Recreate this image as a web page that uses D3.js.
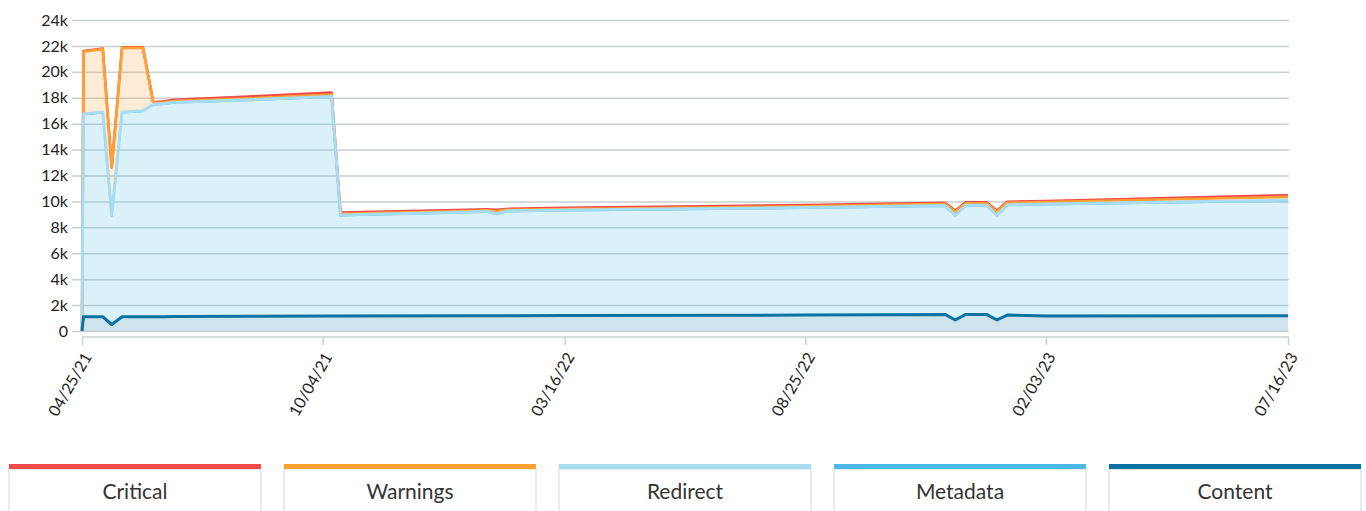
<html>
<head>
<meta charset="utf-8">
<title>issues</title>
<style>
  body { margin: 0; background: #fff; }
  text { font-family: Lato, "Open Sans", sans-serif; }
  .axis path, .axis line { fill: none; stroke: #c9d1d1; stroke-width: 1.5; }
  .axis text { font-size: 16px; fill: #222; }
</style>
</head>
<body>
<script src="https://cdn.jsdelivr.net/npm/d3@7"></script>
<script>
var width = 1366, height = 511;

// data
var dates = ["04/25/21","04/26/21","05/09/21","05/15/21","05/22/21","06/05/21","06/12/21","06/19/21","06/26/21","08/15/21",
  "10/10/21","10/16/21","01/09/22","01/22/22","01/29/22","02/05/22","03/16/22","08/25/22","11/27/22","12/04/22",
  "12/11/22","12/25/22","01/01/23","01/08/23","02/03/23","07/16/23"];
var content  = [0,1100,1100,500,1100,1100,1100,1100,1110,1130,1150,1150,1170,1175,1175,1180,1190,1230,1280,850,1280,1280,850,1230,1160,1180];
var metadata = [0,15610,15760,8410,15760,15860,16360,16410,16500,16680,16910,7760,7970,8035,7835,8050,8100,8260,8360,8060,8380,8390,8060,8470,8600,8880];
var redirect = [0,40,40,40,40,40,40,40,40,40,40,40,40,40,40,40,40,40,40,40,40,40,40,40,40,40];
var warnings = [0,4800,4850,3650,4950,4850,100,100,100,100,150,100,80,70,200,80,90,90,140,250,150,150,250,160,150,250];
var critical = [0,50,50,50,50,50,50,70,100,150,150,100,90,80,100,70,80,100,80,70,80,80,80,80,80,130];

var xTicks = ["04/25/21","10/04/21","03/16/22","08/25/22","02/03/23","07/16/23"];
var yTicks = [0,2000,4000,6000,8000,10000,12000,14000,16000,18000,20000,22000,24000];
var legendNames = ["Critical","Warnings","Redirect","Metadata","Content"];

var keys = ["content","metadata","redirect","warnings","critical"];
var colors = {critical:"#f24a48", warnings:"#ffa030", redirect:"#a8dcf2", metadata:"#4cb8e8", content:"#0a72a2"};
var fillOpacity = {critical:0.2, warnings:0.2, redirect:0.3, metadata:0.2, content:0.2};

var parse = d3.timeParse("%m/%d/%y");
var fmt = d3.timeFormat("%m/%d/%y");
var rows = dates.map(function(d, i){
  return {date: parse(d), content: content[i], metadata: metadata[i], redirect: redirect[i], warnings: warnings[i], critical: critical[i]};
});

var series = d3.stack().keys(keys)(rows);

var svg = d3.select("body").append("svg").attr("width", width).attr("height", height);

var x = d3.scaleTime().domain([parse(xTicks[0]), parse(xTicks[xTicks.length-1])]).range([82, 1288]);
var y = d3.scaleLinear().domain([0, 24000]).range([331, 20]);

// grid + y labels
var yAxis = d3.axisLeft(y).tickValues(yTicks).tickSize(-(1289 - 72))
  .tickFormat(function(d){ return d === 0 ? "0" : (d/1000) + "k"; });
var gy = svg.append("g").attr("class","axis").attr("transform","translate(72,0)").call(yAxis);
gy.select(".domain").remove();
gy.selectAll("line").attr("stroke","#c9d0d0").attr("stroke-width",1.5);
gy.selectAll("text").attr("x",-4).attr("font-size","16px");

// areas
var area = d3.area().x(function(d){ return x(d.data.date); }).y0(function(d){ return y(d[0]); }).y1(function(d){ return y(d[1]); });
var line = d3.line().x(function(d){ return x(d.data.date); }).y(function(d){ return y(d[1]); });

svg.append("g").selectAll("path").data(series).enter().append("path")
  .attr("d", area)
  .attr("fill", function(s){ return colors[s.key]; })
  .attr("fill-opacity", function(s){ return fillOpacity[s.key]; });

// metadata line sits just under the redirect line, drawn first so it mostly hides
var lineOrder = ["metadata","critical","warnings","redirect","content"];
var widths = {metadata:2, critical:2.6, warnings:2.6, redirect:3, content:3};
svg.append("g").selectAll("path")
  .data(lineOrder.map(function(k){ return series.find(function(s){ return s.key === k; }); }))
  .enter().append("path")
  .attr("d", line)
  .attr("fill","none")
  .attr("stroke", function(s){ return colors[s.key]; })
  .attr("stroke-width", function(s){ return widths[s.key]; })
  .attr("stroke-linejoin","round");

// x axis
var xAxis = d3.axisBottom(x).tickValues(xTicks.map(parse)).tickFormat(fmt).tickSize(8).tickSizeOuter(0);
var gx = svg.append("g").attr("class","axis").attr("transform","translate(0,337)").call(xAxis);
gx.select(".domain").attr("d","M82,0H1289");
gx.selectAll("text")
  .attr("x",0).attr("y",0).attr("dy","0.35em")
  .attr("text-anchor","end")
  .attr("transform","translate(5,17) rotate(-60)");

// legend
var lg = svg.append("g").selectAll("g").data(legendNames).enter().append("g")
  .attr("transform", function(d, i){ return "translate(" + (9 + i*275) + ",0)"; });
lg.append("rect").attr("x",0).attr("y",469).attr("width",252).attr("height",50)
  .attr("fill","#fff").attr("stroke","#dfe5e5").attr("stroke-width",1.5);
lg.append("rect").attr("x",0).attr("y",464).attr("width",252).attr("height",5)
  .attr("fill", function(d){ return colors[d.toLowerCase()]; });
lg.append("text").attr("x",126).attr("y",499).attr("text-anchor","middle")
  .attr("font-size","21px").attr("fill","#333").text(function(d){ return d; });
</script>
</body>
</html>
